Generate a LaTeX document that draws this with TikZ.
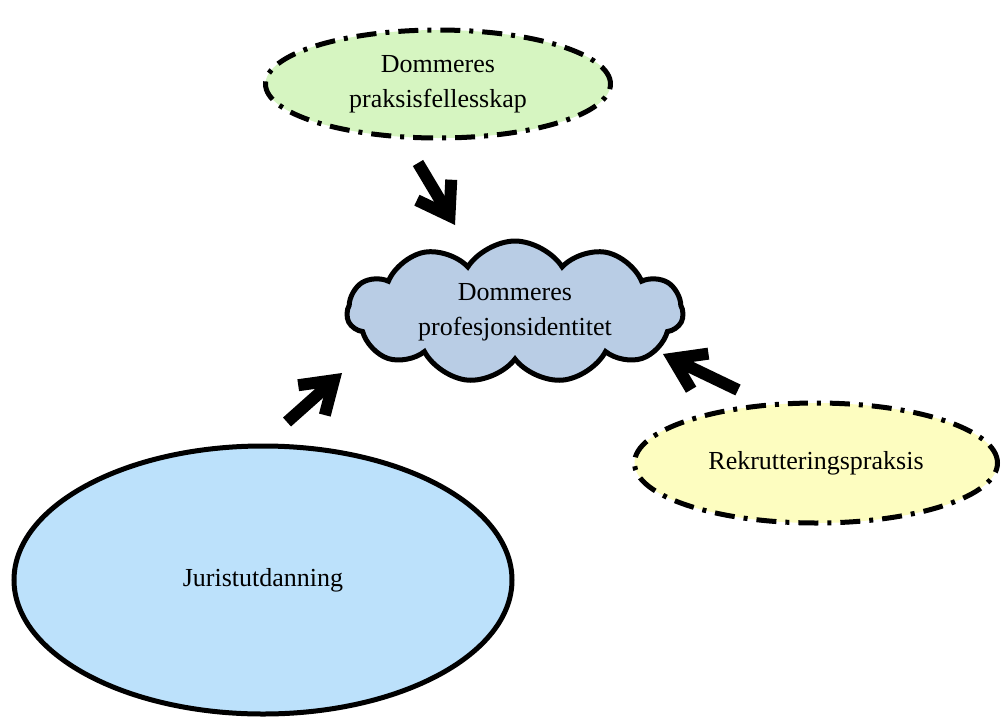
\documentclass[tikz,border=0pt]{standalone}
\usepackage{fontspec}
\setmainfont{Liberation Serif}
\usetikzlibrary{shapes.geometric,shapes.symbols,arrows.meta}
\definecolor{mypalegreen}{RGB}{214,245,193}
\definecolor{mypaleyellow}{RGB}{253,253,192}
\definecolor{mycloudblue}{RGB}{185,205,229}
\definecolor{myskyblue}{RGB}{188,225,251}
\tikzset{every picture/.style={line width=0.75pt}}
\tikzset{
  dashdotline/.style={line width=5pt,dash pattern=on 20pt off 9pt on 4pt off 9pt},
  bigarrow/.style={line width=12pt,-{Straight Barb[length=30pt,width=40pt]}}
}

\begin{document}
\begin{tikzpicture}[x=1pt,y=1pt,yscale=-1,xscale=1,font=\fontsize{26}{35}\selectfont]
\useasboundingbox (0,0) rectangle (1002,718);

%Shape: Ellipse [praksis]
\node [ellipse,draw,dashdotline,fill=mypalegreen,minimum width=345,minimum height=108,align=center] (praksis) at (438,84) {Dommeres\\praksisfellesskap};
%Shape: Cloud [identitet]
\node [cloud,draw,line width=5pt,fill=mycloudblue,cloud puffs=11,cloud puff arc=115,cloud ignores aspect,minimum width=336,minimum height=142,inner sep=0,align=center] (identitet) at (515,312) {Dommeres\\profesjonsidentitet};
%Shape: Ellipse [rekruttering]
\node [ellipse,draw,dashdotline,fill=mypaleyellow,minimum width=363,minimum height=120] (rekruttering) at (816,463) {Rekrutteringspraksis};
%Shape: Ellipse [utdanning]
\node [ellipse,draw,line width=5pt,fill=myskyblue,minimum width=498,minimum height=268] (utdanning) at (263,580) {Juristutdanning};

%Arrows
\coordinate (pfrom) at (418,163);
\coordinate (pto) at (455,225);
\coordinate (ufrom) at (287,422);
\coordinate (uto) at (342,373);
\coordinate (rfrom) at (738,390);
\coordinate (rto) at (663,354);
\draw [bigarrow] (pfrom) -- (pto);
\draw [bigarrow] (ufrom) -- (uto);
\draw [bigarrow] (rfrom) -- (rto);

\end{tikzpicture}
\end{document}
